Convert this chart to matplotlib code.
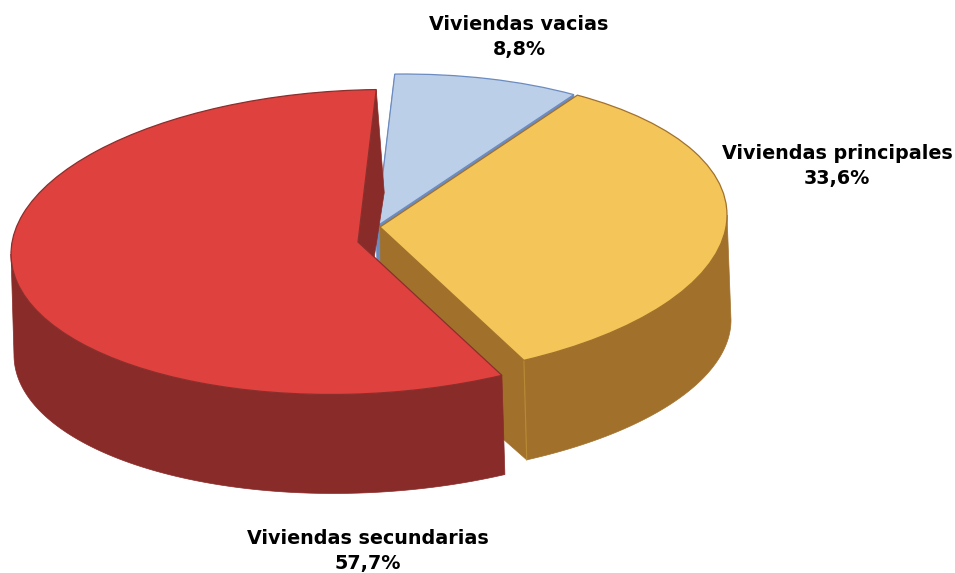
import numpy as np
import matplotlib
matplotlib.use('Agg')
import matplotlib.pyplot as plt
from matplotlib.transforms import Affine2D

# datos
nombres = ['Viviendas principales', 'Viviendas vacias', 'Viviendas secundarias']
valores = [33.6, 8.8, 57.7]

# colores: cara de arriba, pared, borde
c_top = ['#F4C558', '#BCCFE8', '#DF413E']
c_wall = ['#A1712C', '#6C8BBF', '#892B28']
c_edge = ['#A1712C', '#6C8BBF', '#8A2F2C']

# geometria en pixels, (cx, cy, a, b) de arriba y de abajo
top = [(380, 227, 347, 152), (376.5, 226.5, 347, 152), (358, 242, 347, 152)]
bot = [(382, 332, 349, 146), (378, 330, 347, 150), (361, 343, 347, 150)]
tilt = -12
z_wall = [3, 1, 6]
z_top = [4, 2, 7]

fig = plt.figure(figsize=(9.55, 5.73), dpi=100)
ax = fig.add_axes([0, 0, 1, 1])

wedges, _ = ax.pie(valores, startangle=-65.5, radius=1, center=(0, 0), normalize=True)
ax.set_aspect('auto')
ax.set_xlim(0, 955)
ax.set_ylim(573, 0)
ax.axis('off')


def punto(g, ang):
    ang = np.radians(ang)
    x = np.cos(ang)
    y = np.sin(ang)
    return g[0] + g[2] * x, g[1] + tilt * x - g[3] * y


def pared_arco(i, a1, a2):
    ang = np.linspace(a1, a2, 120)
    x1, y1 = punto(top[i], ang)
    x2, y2 = punto(bot[i], ang[::-1])
    ax.fill(np.r_[x1, x2], np.r_[y1, y2], color=c_wall[i], lw=0.5, zorder=z_wall[i])


def pared_radio(i, ang, zz, extra=0):
    xa, ya = punto(top[i], ang)
    xb, yb = punto(bot[i], ang)
    ax.fill([top[i][0], xa, xb + extra, bot[i][0]], [top[i][1], ya, yb, bot[i][1]],
            color=c_wall[i], lw=0.5, zorder=zz)


for i, w in enumerate(wedges):
    g = top[i]
    m = Affine2D(np.array([[g[2], 0, g[0]], [tilt, -g[3], g[1]], [0, 0, 1.0]]))
    w.set_transform(m + ax.transData)
    w.set_facecolor(c_top[i])
    w.set_edgecolor(c_edge[i])
    w.set_linewidth(0.9)
    w.set_zorder(z_top[i])

t1, t2 = wedges[0].theta1, wedges[0].theta2
pared_arco(0, t1, 0)
pared_radio(0, t1, 3)
# linea clara en la esquina amarilla
xa, ya = punto(top[0], t1)
xb, yb = punto(bot[0], t1)
ax.plot([xa, xb], [ya, yb], color='#B98A35', lw=0.8, zorder=3.5)

pared_radio(1, wedges[1].theta1, 1)
pared_radio(1, wedges[1].theta2, 1)

pared_radio(2, wedges[2].theta1, 5, extra=5)
pared_arco(2, 180, wedges[2].theta2)

# etiquetas
pos = [(837, 166), (519, 37), (368, 551)]
for i in range(3):
    txt = '{}\n{}%'.format(nombres[i], str(valores[i]).replace('.', ','))
    ax.text(pos[i][0], pos[i][1], txt, ha='center', va='center', fontsize=13.8,
            fontweight='bold', family='DejaVu Sans', color='black', linespacing=1.45, zorder=10)

fig.savefig('out.png', dpi=100)
